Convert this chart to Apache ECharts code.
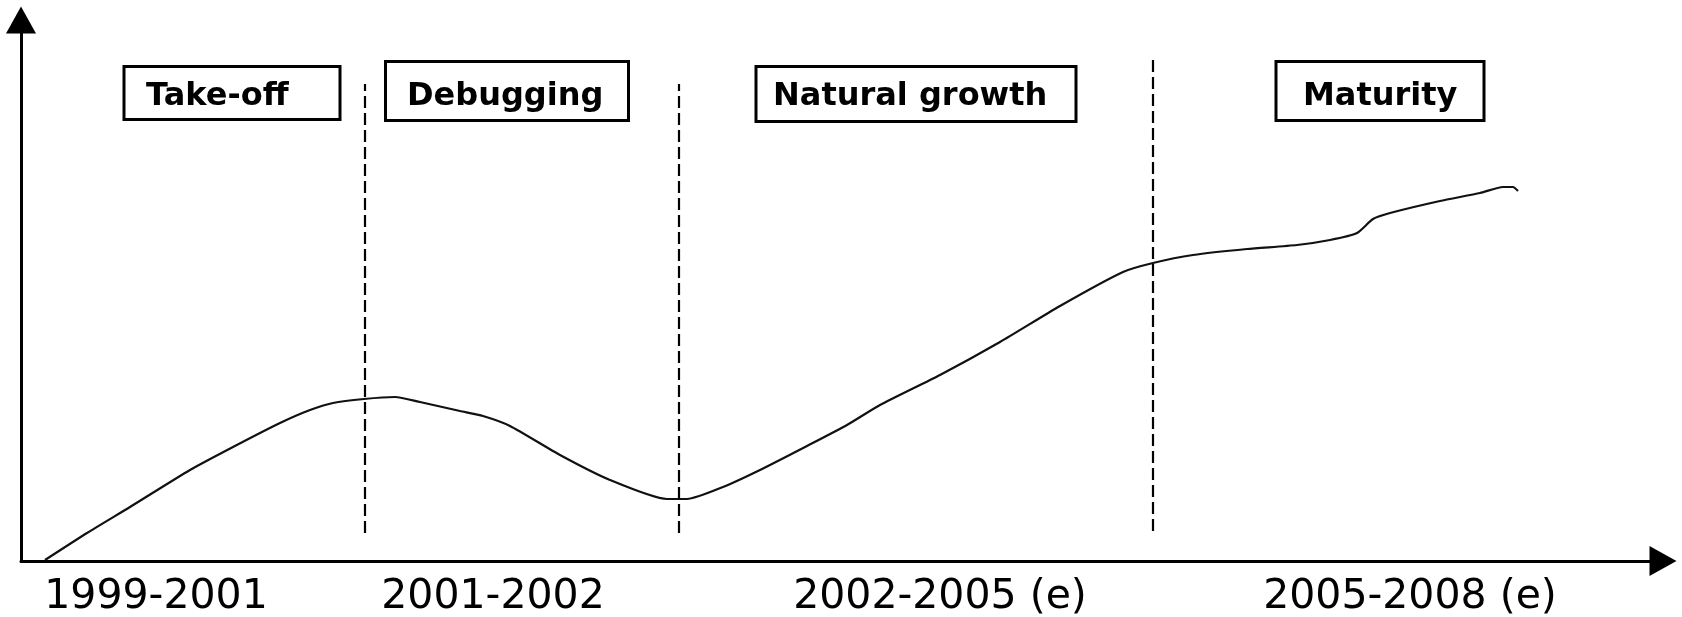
<!DOCTYPE html>
<html>
<head>
<meta charset="utf-8">
<script src="https://cdn.jsdelivr.net/npm/echarts@6/dist/echarts.min.js"></script>
<style>
html, body { margin: 0; padding: 0; background: #fff; }
#chart { width: 1682px; height: 617px; }
</style>
</head>
<body>
<div id="chart"></div>
<script>
// curve (abstract units, x along time, y = level)
var curveX = [24, 66, 109, 169, 212, 259, 289, 312, 343, 374, 399, 439, 462, 489, 539, 589, 646, 666, 702, 739,
  786, 826, 859, 919, 979, 1039, 1102, 1132, 1172, 1226, 1276, 1309, 1336, 1352, 1369, 1419, 1459, 1482, 1492, 1497];
var curveY = [1, 28, 54, 91, 114, 138, 151, 158, 162, 164, 159, 150, 145, 135, 106, 81, 62, 62, 74, 91,
  115, 136, 156, 186, 219, 255, 289, 298, 306, 312, 316, 321, 328, 342, 348, 360, 368, 374, 374, 370];

// period labels under the axis
var periodLabels = ['1999-2001', '2001-2002', '2002-2005 (e)', '2005-2008 (e)'];
var periodPos = [135, 472, 919, 1389];

// phase boundaries (dashed lines)
var phaseBounds = [344, 658, 1132];
var phaseTop = [477, 477, 501];
var phaseBottom = [28, 28, 30];

// phase names: box centres and text start
var phaseNames = ['Take-off', 'Debugging', 'Natural growth', 'Maturity'];
var phaseBoxX = [211, 486, 895, 1359];
var phaseBoxY = [468, 470, 467, 470];
var phaseTextX = [125, 386, 752, 1282];
var phaseTextY = [464, 464, 464, 464];

// layout only
var boxSizes = [[213, 50], [240, 56], [317, 52], [205, 56]];

var lineData = [];
for (var i = 0; i < curveX.length; i++) {
  lineData.push([curveX[i], curveY[i]]);
}

var dashData = [];
for (var i = 0; i < phaseBounds.length; i++) {
  dashData.push([{ coord: [phaseBounds[i], phaseBottom[i]] }, { coord: [phaseBounds[i], phaseTop[i]] }]);
}

var boxData = [];
var textData = [];
for (var i = 0; i < phaseNames.length; i++) {
  boxData.push({
    value: [phaseBoxX[i], phaseBoxY[i]],
    label: { width: boxSizes[i][0], height: boxSizes[i][1] }
  });
  textData.push({ value: [phaseTextX[i], phaseTextY[i]], name: phaseNames[i] });
}

var myChart = echarts.init(document.getElementById('chart'));
myChart.setOption({
  animation: false,
  backgroundColor: '#fff',
  grid: { left: 21, right: 19, top: 20, bottom: 56, outerBoundsMode: 'none', containLabel: false },
  xAxis: {
    type: 'value',
    min: 0,
    max: 1642,
    splitLine: { show: false },
    axisTick: { show: false },
    axisLine: {
      show: true,
      symbol: ['none', 'triangle'],
      symbolSize: [30, 27],
      lineStyle: { color: '#000', width: 3 }
    },
    axisLabel: {
      customValues: periodPos,
      margin: 16,
      color: '#000',
      fontFamily: 'DejaVu Sans',
      fontSize: 41,
      formatter: function (v) {
        var k = periodPos.indexOf(v);
        return k >= 0 ? periodLabels[k] : '';
      }
    }
  },
  yAxis: {
    type: 'value',
    min: 0,
    max: 541,
    splitLine: { show: false },
    axisTick: { show: false },
    axisLabel: { show: false },
    axisLine: {
      show: true,
      symbol: ['none', 'triangle'],
      symbolSize: [30, 27],
      lineStyle: { color: '#000', width: 3 }
    }
  },
  series: [
    {
      type: 'line',
      data: lineData,
      smooth: 0.2,
      showSymbol: false,
      lineStyle: { color: '#111', width: 2.2 },
      markLine: {
        silent: true,
        symbol: ['none', 'none'],
        label: { show: false },
        lineStyle: { color: '#000', width: 2.2, type: [12, 5], opacity: 1 },
        data: dashData
      }
    },
    {
      // the framed boxes
      type: 'scatter',
      symbolSize: 0,
      z: 2,
      data: boxData,
      silent: true,
      itemStyle: { opacity: 1 },
      label: {
        show: true,
        position: 'inside',
        formatter: ' ',
        opacity: 1,
        padding: 0,
        backgroundColor: '#fff',
        borderColor: '#000',
        borderWidth: 3
      }
    },
    {
      // the phase names
      type: 'scatter',
      symbolSize: 0,
      z: 3,
      data: textData,
      silent: true,
      itemStyle: { opacity: 1 },
      label: {
        show: true,
        position: 'right',
        distance: 0,
        formatter: '{b}',
        color: '#000',
        opacity: 1,
        fontFamily: 'DejaVu Sans',
        fontWeight: 'bold',
        fontSize: 32
      }
    }
  ]
});
</script>
</body>
</html>
